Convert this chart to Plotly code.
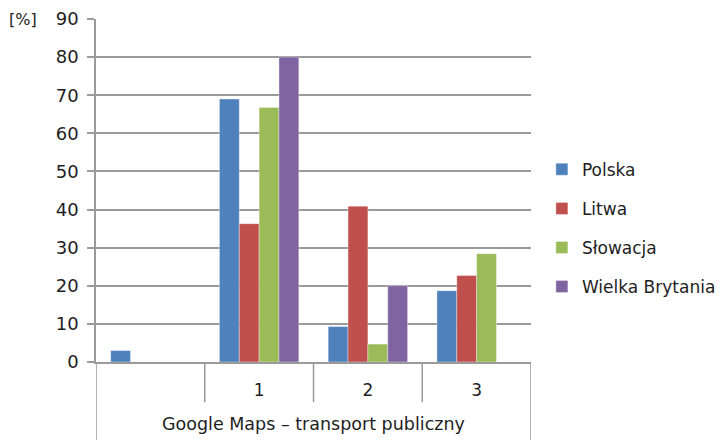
import plotly.graph_objects as go

# category positions on the x axis (first one is an unlabeled slot)
categories = [0, 1, 2, 3]
category_labels = ["", "1", "2", "3"]
group_label = "Google Maps – transport publiczny"

series_names = ["Polska", "Litwa", "Słowacja", "Wielka Brytania"]
polska = [3.0, 69.0, 9.3, 18.7]
litwa = [0, 36.3, 40.9, 22.7]
slowacja = [0, 66.8, 4.7, 28.4]
wielka_brytania = [0, 80.0, 20.0, 0]

y_ticks = [0, 10, 20, 30, 40, 50, 60, 70, 80, 90]

colors = ["#4F81BD", "#C0504D", "#9BBB59", "#8064A2"]
FONT = "DejaVu Sans, Verdana, sans-serif"
AXIS_GREY = "#9a9a9a"
TEXT = "#1e1e1e"

fig = go.Figure()
for name, vals, col in zip(series_names, [polska, litwa, slowacja, wielka_brytania], colors):
    fig.add_trace(
        go.Bar(
            x=categories,
            y=vals,
            name=name,
            legendgroup=name,
            marker=dict(color=col, line=dict(color="rgba(255,255,255,0.6)", width=0.6)),
        )
    )

# divider lines below the axis (between the categories and at the ends)
for xb in [0.5, 1.5, 2.5]:
    fig.add_shape(type="line", xref="x", yref="paper", x0=xb, x1=xb, y0=0, y1=-0.117,
                  line=dict(color=AXIS_GREY, width=1.5))
for xb in [-0.5, 3.5]:
    fig.add_shape(type="line", xref="x", yref="paper", x0=xb, x1=xb, y0=0, y1=-0.23,
                  line=dict(color=AXIS_GREY, width=1.5))

fig.add_annotation(text=group_label, xref="x", yref="paper", x=1.5, y=-0.18,
                   showarrow=False, font=dict(size=17.5, color=TEXT), yanchor="middle")
fig.add_annotation(text="[%]", xref="paper", yref="paper", x=-0.117, y=1.0,
                   showarrow=False, font=dict(size=16, color=TEXT), xanchor="center",
                   yanchor="middle")

# plot area kept narrow via the axis domain, legend sits inside the paper
fig.update_layout(
    width=724,
    height=440,
    margin=dict(l=96, r=0, t=19, b=78),
    paper_bgcolor="white",
    plot_bgcolor="white",
    font=dict(family=FONT, size=17, color=TEXT),
    barmode="group",
    bargap=0.27,
    bargroupgap=0,
    showlegend=True,
    legend=dict(
        x=0.71, xanchor="left", y=0.39, yanchor="middle",
        font=dict(size=17, color=TEXT),
        traceorder="grouped", tracegroupgap=14,
        itemwidth=30,
    ),
    xaxis=dict(
        domain=[0, 435 / 628],
        range=[-0.5, 3.5],
        tickvals=categories,
        ticktext=category_labels,
        showgrid=False,
        zeroline=False,
        showline=True,
        linecolor=AXIS_GREY,
        linewidth=1.5,
        ticks="",
        ticklabelstandoff=12,
        tickfont=dict(size=17),
        automargin=False,
    ),
    yaxis=dict(
        range=[0, 90],
        tickvals=y_ticks,
        showgrid=True,
        gridcolor=AXIS_GREY,
        gridwidth=1.5,
        zeroline=False,
        showline=True,
        linecolor=AXIS_GREY,
        linewidth=1.5,
        ticks="outside",
        ticklen=7,
        tickcolor=AXIS_GREY,
        tickwidth=1.5,
        tickfont=dict(size=18),
        ticklabelstandoff=5,
        automargin=False,
    ),
)

# drop the browser's default body margin so the figure sits at the window's corner
fig.write_html(
    "out.html",
    config={"displayModeBar": False},
    post_script="document.body.style.margin='0';",
)
